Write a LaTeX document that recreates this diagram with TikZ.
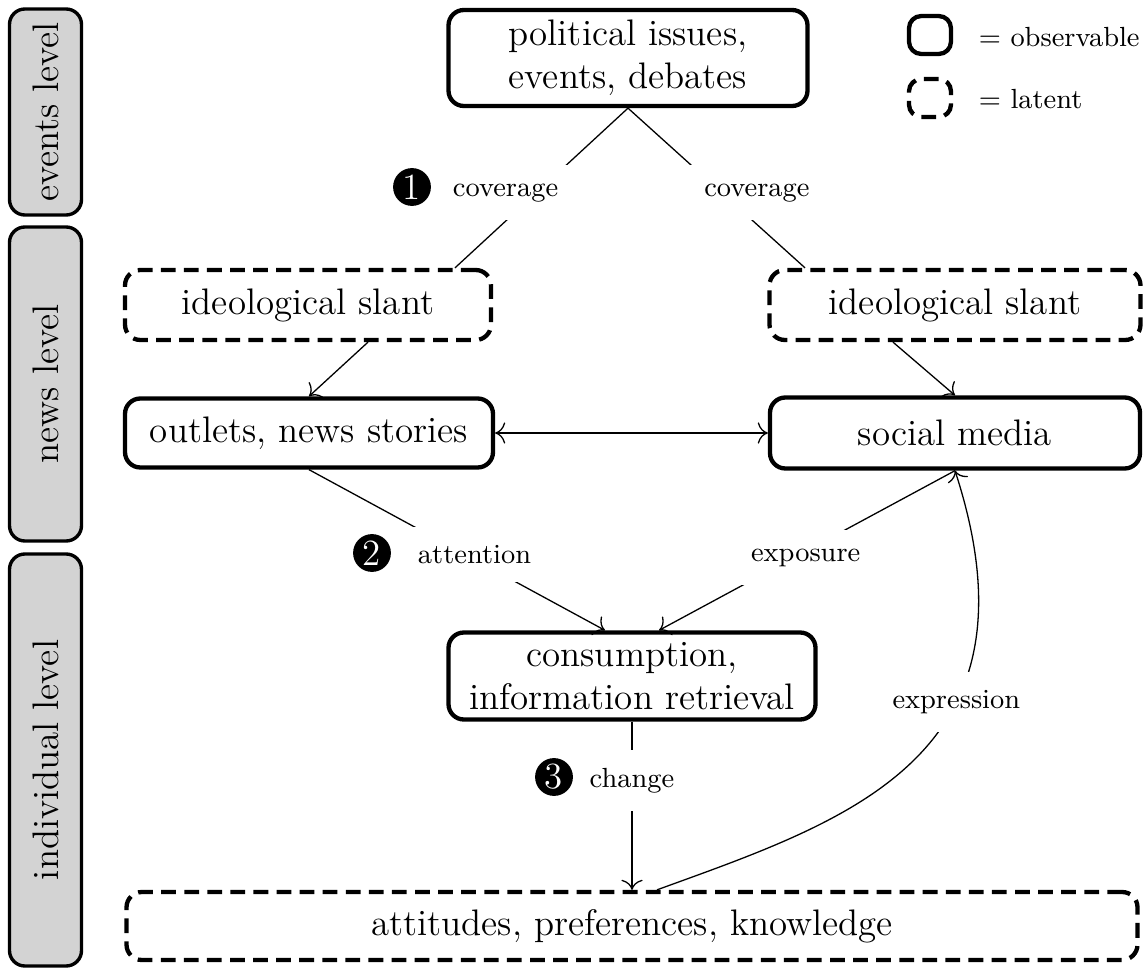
\documentclass[tikz,border=0pt]{standalone}
\usetikzlibrary{calc,arrows.meta}
\definecolor{lvlgray}{RGB}{211,211,211}
\begin{document}
\begin{tikzpicture}[x=0.325pt,y=-0.325pt, >={To[scale=1.3]},
  obs/.style={draw, line width=1.4pt, rounded corners=5pt, font=\large, align=center, inner sep=0pt},
  lat/.style={obs, dash pattern=on 4.8pt off 2.7pt},
  lvl/.style={draw, line width=1.1pt, fill=lvlgray, rounded corners=5pt, rotate=90, font=\large, inner sep=0pt, minimum height=72*0.325pt},
  lbl/.style={font=\small, fill=white, inner sep=6pt},
  num/.style={circle, fill=black, text=white, font=\large, minimum size=12.3pt, inner sep=0pt},
  conn/.style={line width=0.42pt}]
\useasboundingbox (0,0) rectangle (1144,973);

% level boxes
\node[lvl, minimum width=206*0.325pt] (evt) at (45.5,112) {events level};
\node[lvl, minimum width=314*0.325pt] (nws) at (45.5,384) {news level};
\node[lvl, minimum width=412*0.325pt] (ind) at (45.5,760) {individual level};

% main nodes
\node[obs, minimum width=359*0.325pt, minimum height=96*0.325pt] (pol) at (628,58) {political issues,\\ events, debates};
\node[lat, minimum width=366*0.325pt, minimum height=70*0.325pt] (lsl) at (308,305) {ideological slant};
\node[lat, minimum width=371*0.325pt, minimum height=70*0.325pt] (rsl) at (955,305) {ideological slant};
\node[obs, minimum width=368*0.325pt, minimum height=69*0.325pt] (out) at (309,433) {outlets, news stories};
\node[obs, minimum width=370*0.325pt, minimum height=71*0.325pt] (soc) at (955,433) {social media};
\node[obs, minimum width=367*0.325pt, minimum height=87*0.325pt] (con) at (632,676) {consumption,\\ information retrieval};
\node[lat, minimum width=1011*0.325pt, minimum height=68*0.325pt] (att) at (632,926) {attitudes, preferences, knowledge};

% legend
\node[obs, rounded corners=4pt, minimum width=42*0.325pt, minimum height=38*0.325pt] (lgo) at (930,35) {};
\node[lat, rounded corners=4pt, minimum width=42*0.325pt, minimum height=38*0.325pt] (lgl) at (930,98) {};
\node[anchor=west, font=\small] (lgot) at (968,37) {$=$ observable};
\node[anchor=west, font=\small] (lglt) at (968,99) {$=$ latent};

% connectors
\draw[conn] (pol.south) -- node[lbl, pos=0.53, xshift=-10pt] (cov1) {coverage} ($(lsl.north)+(147,0)$);
\draw[conn] (pol.south) -- node[lbl, pos=0.53, xshift=11.4pt] (cov2) {coverage} ($(rsl.north)+(-150,0)$);
\draw[conn,->] ($(lsl.south)+(60,0)$) -- (out.north);
\draw[conn,->] ($(rsl.south)+(-62,0)$) -- (soc.north);
\draw[conn,<->] (out.east) -- (soc.west);
\draw[conn,->] (out.south) -- node[lbl, pos=0.528, xshift=3pt] (att1) {attention} ($(con.north)+(-27,0)$);
\draw[conn,->] (soc.south) -- node[lbl, pos=0.545, xshift=3.9pt] (exp1) {exposure} ($(con.north)+(27,0)$);
\draw[conn,->] (con.south) -- node[lbl, pos=0.35] (chg) {change} (att.north);
\draw[conn,->] ($(att.north)+(25,0)$) to[out=20, in=-72, in looseness=1.5] node[lbl, pos=0.645] (expr) {expression} (soc.south);

% numbers
\node[num] (n1) at (412,187) {1};
\node[num] (n2) at (372,553) {2};
\node[num] (n3) at (554,777) {3};
\end{tikzpicture}
\end{document}
